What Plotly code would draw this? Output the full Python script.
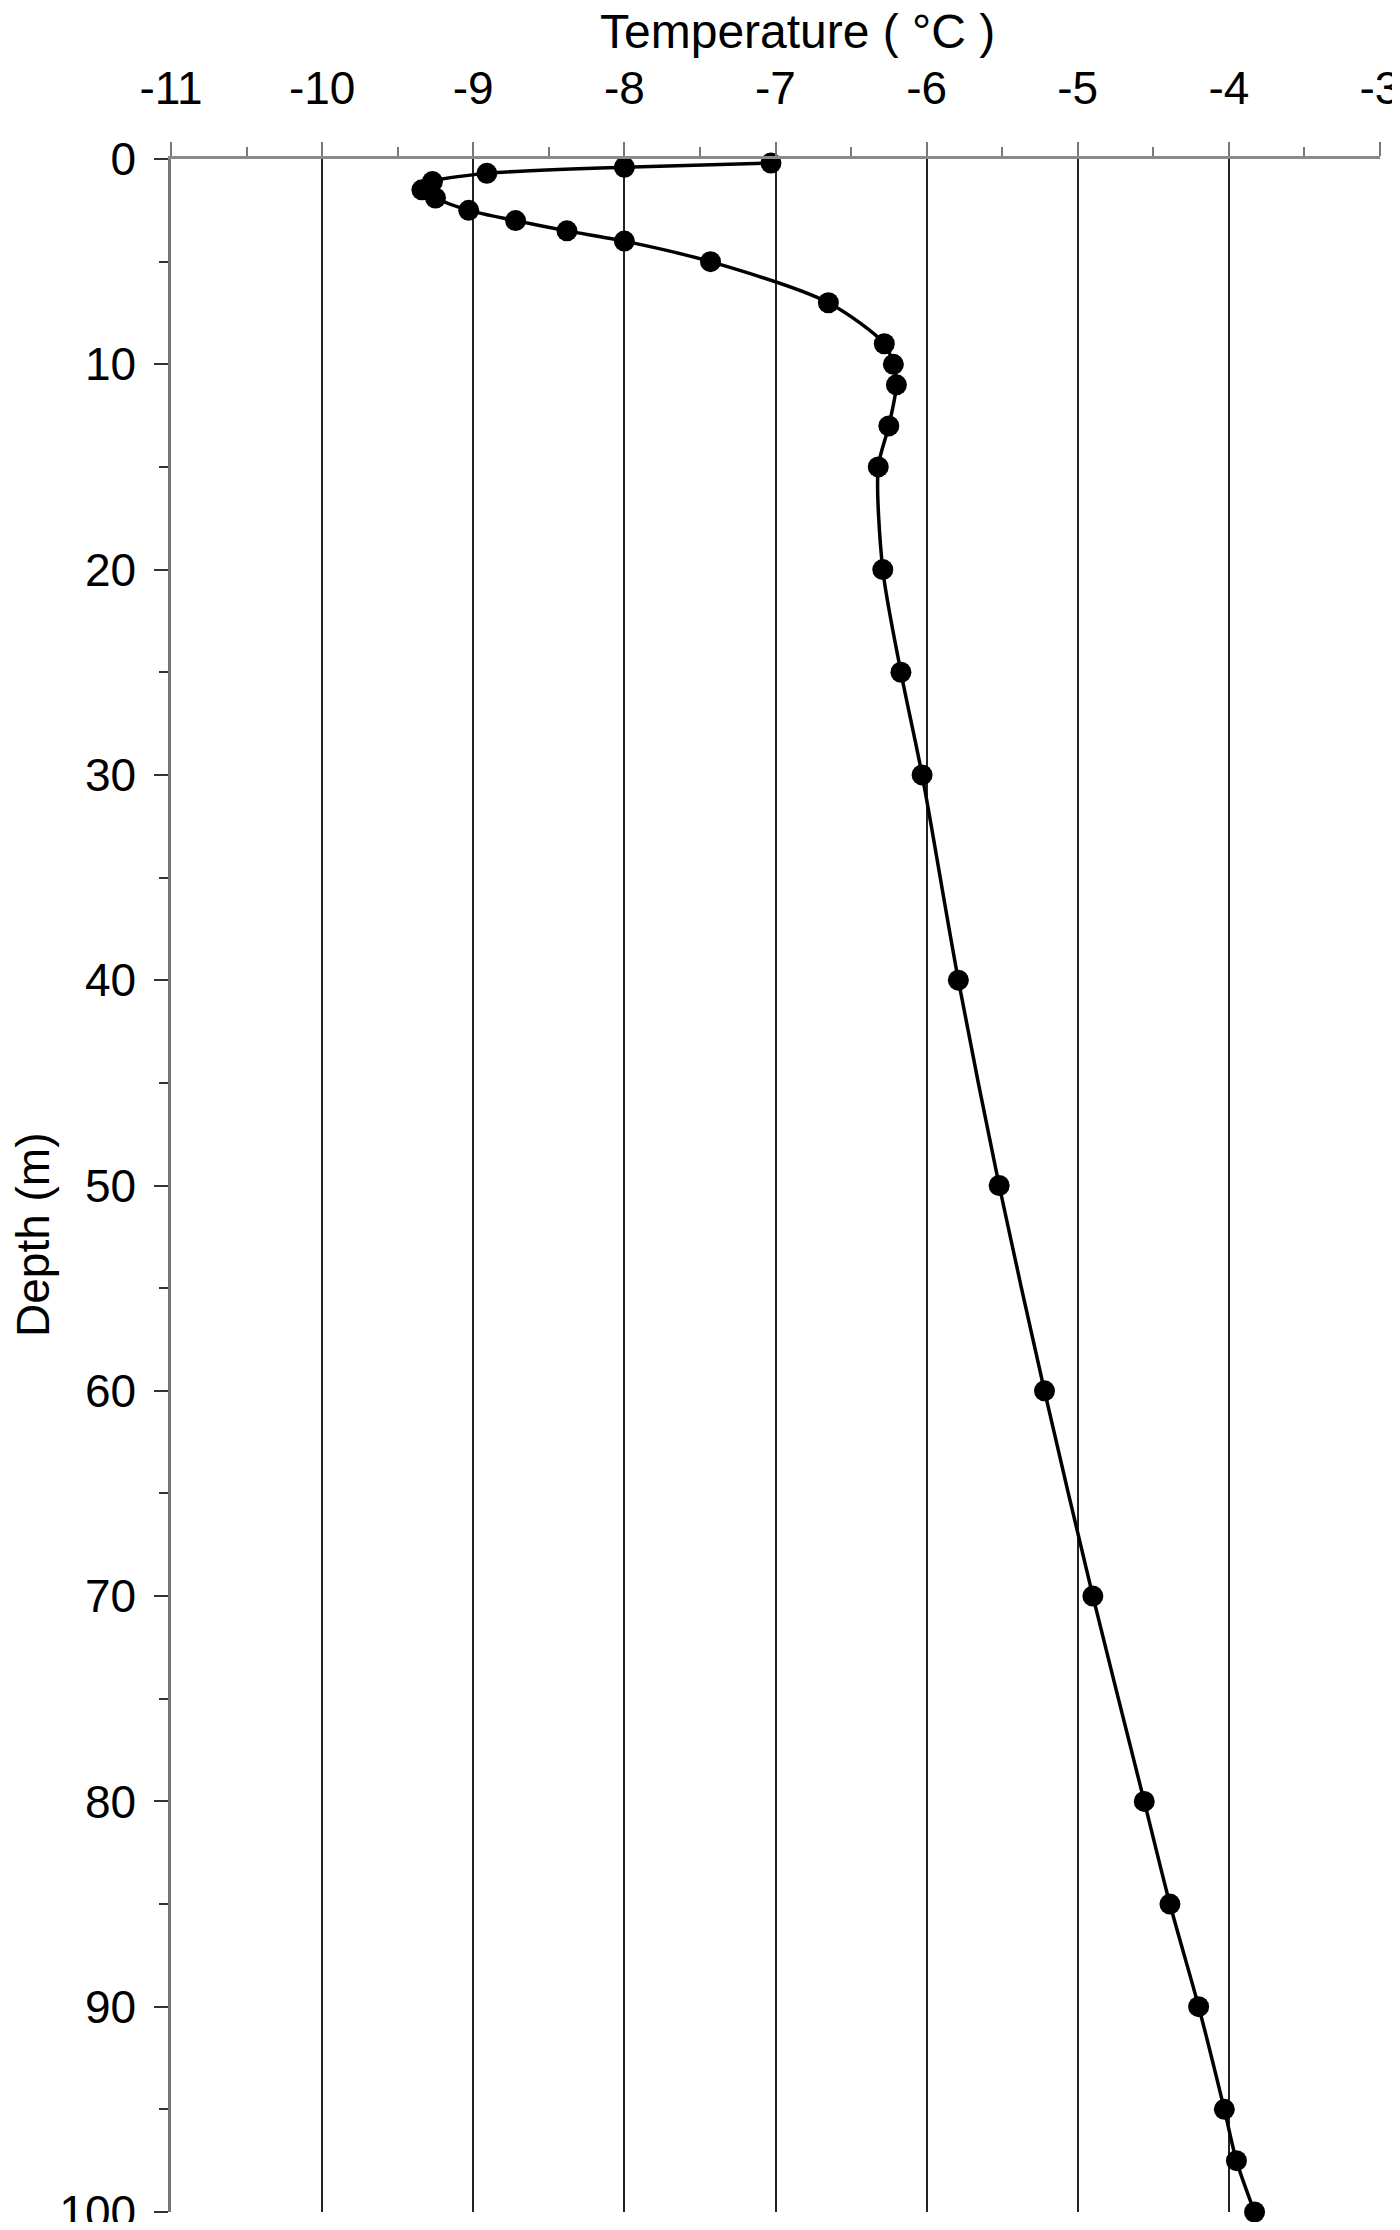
import plotly.graph_objects as go

depth_m = [0.2, 0.4, 0.7, 1.1, 1.5, 1.9, 2.5, 3, 3.5, 4, 5, 7, 9, 10, 11, 13, 15,
           20, 25, 30, 40, 50, 60, 70, 80, 85, 90, 95, 97.5, 100]
temperature_c = [-7.03, -8.0, -8.91, -9.27, -9.34, -9.25, -9.03, -8.72, -8.38, -8.0,
                 -7.43, -6.65, -6.28, -6.22, -6.20, -6.25, -6.32, -6.29, -6.17, -6.03,
                 -5.79, -5.52, -5.22, -4.90, -4.56, -4.39, -4.20, -4.03, -3.95, -3.83]

x_ticks = [-11, -10, -9, -8, -7, -6, -5, -4, -3]
y_ticks = [0, 10, 20, 30, 40, 50, 60, 70, 80, 90, 100]

FONT = "Liberation Sans, Arial, Helvetica, sans-serif"

# page has an 8px body margin; size the figure so it fits the 1400x2230 window
W, H = 1392, 2214
L, R, T, B = 163, 20, 151, 10
PW, PH = W - L - R, H - T - B

fig = go.Figure()
fig.add_trace(go.Scatter(
    x=temperature_c, y=depth_m,
    mode="lines+markers",
    line=dict(color="black", width=3.5, shape="spline", smoothing=0.8),
    marker=dict(color="black", size=21, symbol="circle"),
    cliponaxis=False,
    showlegend=False,
))

fig.update_layout(
    width=W, height=H,
    margin=dict(l=L, r=R, t=T, b=B, autoexpand=False),
    paper_bgcolor="white", plot_bgcolor="white",
    font=dict(family=FONT, size=46, color="black"),
    xaxis=dict(
        side="top", range=[-11, -3], tickvals=x_ticks,
        ticktext=[str(v) for v in x_ticks],
        showgrid=True, gridcolor="#222", gridwidth=2.4,
        ticks="outside", ticklen=14, tickwidth=2, tickcolor="#777",
        minor=dict(dtick=0.5, ticks="outside", ticklen=9, tickwidth=2, tickcolor="#777", showgrid=False),
        showline=True, linecolor="#8a8a8a", linewidth=3,
        zeroline=False, ticklabelstandoff=20, ticklabeloverflow="allow",
        automargin=False,
        tickfont=dict(family=FONT, size=46, color="black"),
    ),
    yaxis=dict(
        range=[100, 0], tickvals=y_ticks,
        ticktext=[str(v) for v in y_ticks],
        showgrid=False, zeroline=False,
        ticks="outside", ticklen=14, tickwidth=2, tickcolor="#333",
        minor=dict(dtick=5, ticks="outside", ticklen=9, tickwidth=2, tickcolor="#333"),
        showline=True, linecolor="#777", linewidth=2.5,
        ticklabelstandoff=9, ticklabeloverflow="allow",
        automargin=False,
        tickfont=dict(family=FONT, size=46, color="black"),
    ),
    annotations=[
        dict(text="Temperature ( °C )", xref="paper", yref="paper",
             x=(789 - L) / PW, y=1, yshift=128, showarrow=False,
             xanchor="center", yanchor="middle",
             font=dict(family=FONT, size=48, color="black")),
        dict(text="Depth (m)", xref="paper", yref="paper",
             x=0, xshift=-138, y=(H - B - 1227) / PH, showarrow=False,
             textangle=-90, xanchor="center", yanchor="middle",
             font=dict(family=FONT, size=46, color="black")),
    ],
)

fig.write_html("out.html")
